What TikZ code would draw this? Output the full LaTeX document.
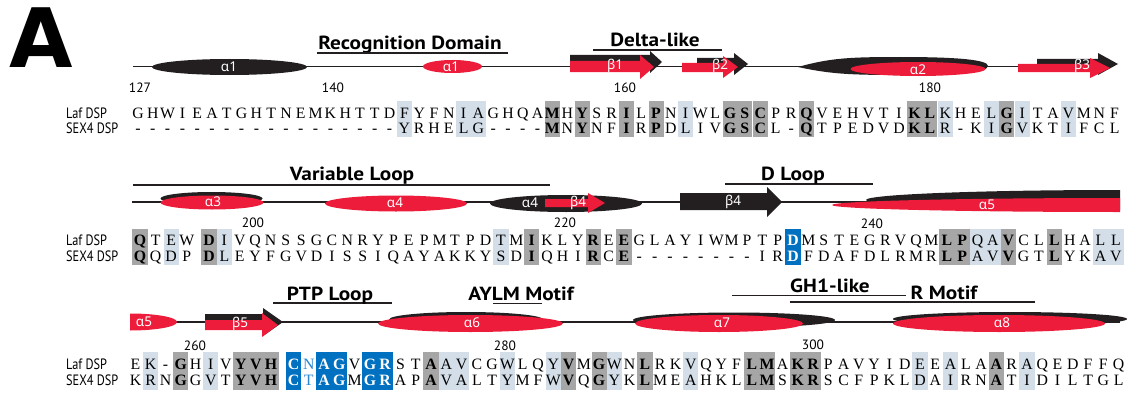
\documentclass[tikz,border=0pt]{standalone}
\usepackage{fontspec}
\setmainfont{Liberation Serif}
\newfontfamily\ptsans{PT Sans}
\newfontfamily\grk{Noto Sans}
\newfontfamily\djv{DejaVu Sans}
\definecolor{dg}{RGB}{166,166,166}
\definecolor{lb}{RGB}{211,222,232}
\definecolor{bl}{RGB}{0,112,192}
\definecolor{ltb}{RGB}{40,135,210}
\definecolor{rd}{RGB}{237,28,58}
\definecolor{bk}{RGB}{35,31,32}
\newcommand\Bx[1]{\textbf{#1}}
\newcommand\Wx[1]{\textcolor{white}{\textbf{#1}}}
\newcommand\Tx[1]{\textcolor{ltb}{#1}}
\newcommand\ttlx[1]{\scalebox{1.12}[1]{#1}}
\newcommand\labx[1]{\scalebox{0.82}[1]{#1}}
\newcommand\arw[9]{\fill[#9] (#1,#4) -- (#2,#4) -- (#2,#6) -- (#3,#7) -- (#2,#8) -- (#2,#5) -- (#1,#5) -- cycle;}
\pgfmathdeclarefunction{xa}{1}{\pgfmathparse{ifthenelse(#1<42.5,138+(#1-1)*14.8,745+(#1-42)*15.4)}}
\pgfmathdeclarefunction{xb}{1}{\pgfmathparse{ifthenelse(#1<4.5,140+(#1-1)*15.6,209+(#1-5)*15.37)}}
\pgfmathdeclarefunction{xc}{1}{\pgfmathparse{ifthenelse(#1<10.5,135.5+(#1-1)*15.05,293.5+(#1-11)*15.28)}}
\tikzset{
  res/.style={inner sep=0pt, text height=10.5pt, text depth=0pt, font=\fontsize{15.8}{16}\selectfont},
  rowlab/.style={anchor=west, inner sep=0pt, font=\ptsans\fontsize{15}{15}\selectfont},
  num/.style={inner sep=0pt, font=\ptsans\fontsize{13.5}{13.5}\selectfont},
  sslab/.style={inner sep=0pt, text=white, font=\grk\fontsize{13.5}{13.5}\selectfont},
  ttl/.style={anchor=base, inner sep=0pt, font=\ptsans\bfseries\fontsize{19}{19}\selectfont},
  trk/.style={line width=1.4pt, draw=bk},
  ann/.style={line width=1.3pt, draw=bk},
}
\begin{document}
\begin{tikzpicture}[x=1pt,y=-1pt]
\useasboundingbox (0,0) rectangle (1137,396);
\node[inner sep=0pt, font=\djv\bfseries\fontsize{82}{82}\selectfont] (bigA) at (41.5,38) {A};

% ---------------- Row 1 ----------------
\coordinate (t1a) at (133,66.5); \coordinate (t1b) at (1105,66.5);
\draw[trk] (t1a) -- (t1b);
\node[ttl] (recog) at (410,49) {\ttlx{Recognition Domain}};
\coordinate (r1a) at (317,53); \coordinate (r1b) at (508,53);
\draw[ann] (r1a) -- (r1b);
\node[ttl] (delta) at (655,46.5) {\ttlx{Delta-like}};
\coordinate (d1a) at (593,50); \coordinate (d1b) at (722,50);
\draw[ann] (d1a) -- (d1b);
\fill[bk] (229.5,67) ellipse [x radius=77.5, y radius=8];
\node[sslab] (h1a) at (229,67) {α1};
\fill[rd] (452.5,66.5) ellipse [x radius=29.5, y radius=6.5];
\node[sslab] (h1b) at (451,66.5) {α1};
\arw{570}{650}{662}{55}{63}{51}{62}{73}{bk}
\arw{570}{640}{654}{61}{72}{55}{67}{79}{rd}
\node[sslab] (b1) at (615,66) {β1};
\arw{697}{734}{748}{58}{64}{53}{64}{75}{bk}
\arw{682}{723}{738}{63}{72}{56}{67}{78}{rd}
\node[sslab] (b2) at (720,66) {β2};
\fill[bk] (798,67) .. controls (830,58) and (850,57) .. (900,57) .. controls (960,57) and (988,60) .. (988,66) .. controls (988,72) and (960,75) .. (900,75) .. controls (850,75) and (830,74) .. (798,67) -- cycle;
\fill[rd] (918,69) ellipse [x radius=67.5, y radius=7];
\node[sslab] (h2) at (918,69.5) {α2};
\arw{1037}{1098}{1118}{59}{65}{53}{64}{75}{bk}
\arw{1018}{1090}{1110}{64}{72}{58}{68}{78}{rd}
\node[sslab] (b3) at (1082,66) {β3};
\node[num] (n127) at (140,88) {127};
\node[num] (n140) at (333,88) {140};
\node[num] (n160) at (625,88) {160};
\node[num] (n180) at (930,88) {180};
\node[rowlab] (laf1) at (66,113) {\labx{Laf DSP}};
\node[rowlab] (sex1) at (66,128) {\labx{SEX4 DSP}};
\foreach \i in {19,23,24,38,55,58,60,63} \fill[lb] ({xa(\i)-7.5},101) rectangle ({xa(\i)+7.5},137);
\foreach \i in {29,31,34,36,41,42,43,46,53,54,59} \fill[dg] ({xa(\i)-7.5},101) rectangle ({xa(\i)+7.5},137);
\foreach \c [count=\i] in {G,H,W,I,E,A,T,G,H,T,N,E,M,K,H,T,T,D,F,Y,F,N,I,A,G,H,Q,A,\Bx{M},H,\Bx{Y},S,R,\Bx{I},L,\Bx{P},N,I,W,L,\Bx{G},\Bx{S},\Bx{C},P,R,\Bx{Q},V,E,H,V,T,I,\Bx{K},\Bx{L},K,H,E,L,\Bx{G},I,T,A,V,M,N,F}
  \node[res] (la\i) at ({xa(\i)},113) {\c};
\foreach \c [count=\i] in {-,-,-,-,-,-,-,-,-,-,-,-,-,-,-,-,-,-,Y,R,H,E,L,G,-,-,-,-,\Bx{M},N,\Bx{Y},N,F,\Bx{I},R,\Bx{P},D,L,I,V,\Bx{G},\Bx{S},\Bx{C},L,-,\Bx{Q},T,P,E,D,V,D,\Bx{K},\Bx{L},R,-,K,I,\Bx{G},V,K,T,I,F,C,L}
  \node[res] (sa\i) at ({xa(\i)},128) {\c};

% ---------------- Row 2 ----------------
\coordinate (t2a) at (132,202); \coordinate (t2b) at (1120,202);
\draw[trk] (t2a) -- (t2b);
\coordinate (v2a) at (133,185); \coordinate (v2b) at (550,185);
\draw[ann] (v2a) -- (v2b);
\node[ttl] (varl) at (352,180) {\ttlx{Variable Loop}};
\coordinate (dl2a) at (725,184); \coordinate (dl2b) at (873,184);
\draw[ann] (dl2a) -- (dl2b);
\node[ttl] (dloop) at (793,180) {\ttlx{D Loop}};
\fill[bk] (211.5,198.5) ellipse [x radius=51, y radius=6.5];
\fill[rd] (212,202.5) ellipse [x radius=51.5, y radius=7];
\node[sslab] (h3) at (213,202) {α3};
\fill[rd] (396,203.5) ellipse [x radius=71, y radius=8];
\node[sslab] (h4a) at (395,203) {α4};
\fill[bk] (566,203.5) ellipse [x radius=76, y radius=8.5];
\node[sslab] (h4b) at (530,203) {α4};
\arw{545}{588}{605}{199}{207}{193}{203}{213}{rd}
\node[sslab] (b4a) at (578,203) {β4};
\arw{680}{767}{782}{193}{210}{187}{202}{217}{bk}
\node[sslab] (b4b) at (733,202) {β4};
\begin{scope}
  \clip (820,180) rectangle (1120,220);
  \fill[bk] (1120,200) ellipse [x radius=254, y radius=10];
  \fill[rd] (1120,205) ellipse [x radius=288, y radius=7];
\end{scope}
\node[sslab] (h5a) at (987,205) {α5};
\node[num] (n200) at (253,223) {200};
\node[num] (n220) at (565,223) {220};
\node[num] (n240) at (872,224) {240};
\node[rowlab] (laf2) at (66,240) {\labx{Laf DSP}};
\node[rowlab] (sex2) at (66,256) {\labx{SEX4 DSP}};
\foreach \i in {3,6,24,55,56,63,64} \fill[lb] ({xb(\i)-7.7},229) rectangle ({xb(\i)+7.7},265);
\foreach \i in {1,5,26,30,32,53,54,57,60} \fill[dg] ({xb(\i)-7.7},229) rectangle ({xb(\i)+7.7},265);
\foreach \i in {43} \fill[bl] ({xb(\i)-7.7},229) rectangle ({xb(\i)+7.7},265);
\foreach \c [count=\i] in {\Bx{Q},T,E,W,\Bx{D},I,V,Q,N,S,S,G,C,N,R,Y,P,E,P,M,T,P,D,T,M,\Bx{I},K,L,Y,\Bx{R},E,\Bx{E},G,L,A,Y,I,W,M,P,T,P,\Wx{D},M,S,T,E,G,R,V,Q,M,\Bx{L},\Bx{P},Q,A,\Bx{V},C,L,\Bx{L},H,A,L,L}
  \node[res] (lb\i) at ({xb(\i)},240) {\c};
\foreach \c [count=\i] in {\Bx{Q},Q,D,P,\Bx{D},L,E,Y,F,G,V,D,I,S,S,I,Q,A,Y,A,K,K,Y,S,D,\Bx{I},Q,H,I,\Bx{R},C,\Bx{E},-,-,-,-,-,-,-,-,I,R,\Wx{D},F,D,A,F,D,L,R,M,R,\Bx{L},\Bx{P},A,V,\Bx{V},G,T,\Bx{L},Y,K,A,V}
  \node[res] (sb\i) at ({xb(\i)},256) {\c};

% ---------------- Row 3 ----------------
\coordinate (t3a) at (130,322); \coordinate (t3b) at (1120,322);
\draw[trk] (t3a) -- (t3b);
\begin{scope}
  \clip (130,300) rectangle (180,340);
  \fill[rd] (130,322) ellipse [x radius=47, y radius=8.5];
\end{scope}
\node[sslab] (h5b) at (144,322) {α5};
\arw{205}{263}{283}{314}{321}{308}{322}{336}{bk}
\arw{205}{262}{278}{320}{330}{313}{325}{337}{rd}
\node[sslab] (b5) at (240,324) {β5};
\coordinate (p3a) at (273,303); \coordinate (p3b) at (392,303);
\draw[ann] (p3a) -- (p3b);
\node[ttl] (ptp) at (330,300) {\ttlx{PTP Loop}};
\node[ttl] (aylm) at (521,300) {\ttlx{AYLM Motif}};
\coordinate (m3a) at (493,303.5); \coordinate (m3b) at (542,303.5);
\draw[ann] (m3a) -- (m3b);
\coordinate (g3a) at (732,295.5); \coordinate (g3b) at (906,295.5);
\draw[ann] (g3a) -- (g3b);
\node[ttl] (gh1) at (830,292) {\ttlx{GH1-like}};
\coordinate (rm3a) at (790,302); \coordinate (rm3b) at (1035,302);
\draw[ann] (rm3a) -- (rm3b);
\node[ttl] (rmot) at (944,299) {\ttlx{R Motif}};
\fill[bk] (466,319.5) ellipse [x radius=77, y radius=7.5];
\fill[rd] (470.5,323.5) ellipse [x radius=92.5, y radius=8.5];
\node[sslab] (h6) at (472,323) {α6};
\fill[bk] (734,320) ellipse [x radius=101, y radius=7.5];
\fill[rd] (719,323.5) ellipse [x radius=84, y radius=8.5];
\node[sslab] (h7) at (722,323) {α7};
\fill[bk] (1010,319) ellipse [x radius=117, y radius=7];
\fill[rd] (999,323.5) ellipse [x radius=106, y radius=8.5];
\node[sslab] (h8) at (1002,323) {α8};
\node[num] (n260) at (195,346) {260};
\node[num] (n280) at (505,346) {280};
\node[num] (n300) at (813,345) {300};
\node[rowlab] (laf3) at (66,364) {\labx{Laf DSP}};
\node[rowlab] (sex3) at (66,380) {\labx{SEX4 DSP}};
\foreach \i in {2,6,21,22,25,28,32,37,52,54,59} \fill[lb] ({xc(\i)-7.6},352) rectangle ({xc(\i)+7.6},390);
\foreach \i in {4,8,9,10,20,29,31,34,41,42,44,45,57} \fill[dg] ({xc(\i)-7.6},352) rectangle ({xc(\i)+7.6},390);
\foreach \i in {11,13,14,16,17} \fill[bl] ({xc(\i)-7.6},352) rectangle ({xc(\i)+7.6},390);
\foreach \c [count=\i] in {E,K,-,\Bx{G},H,I,V,\Bx{Y},\Bx{V},\Bx{H},\Wx{C},\Tx{N},\Wx{A},\Wx{G},V,\Wx{G},\Wx{R},S,T,\Bx{A},A,V,C,G,W,L,Q,Y,\Bx{V},M,\Bx{G},W,N,\Bx{L},R,K,V,Q,Y,F,\Bx{L},\Bx{M},A,\Bx{K},\Bx{R},P,A,V,Y,I,D,E,E,A,L,A,\Bx{A},R,A,Q,E,D,F,F,Q}
  \node[res] (lc\i) at ({xc(\i)},364) {\c};
\foreach \c [count=\i] in {K,R,N,\Bx{G},G,V,T,\Bx{Y},\Bx{V},\Bx{H},\Wx{C},\Tx{T},\Wx{A},\Wx{G},M,\Wx{G},\Wx{R},A,P,\Bx{A},V,A,L,T,Y,M,F,W,\Bx{V},Q,\Bx{G},Y,K,\Bx{L},M,E,A,H,K,L,\Bx{L},\Bx{M},S,\Bx{K},\Bx{R},S,C,F,P,K,L,D,A,I,R,N,\Bx{A},T,I,D,I,L,T,G,L}
  \node[res] (sc\i) at ({xc(\i)},380) {\c};
\end{tikzpicture}
\end{document}
